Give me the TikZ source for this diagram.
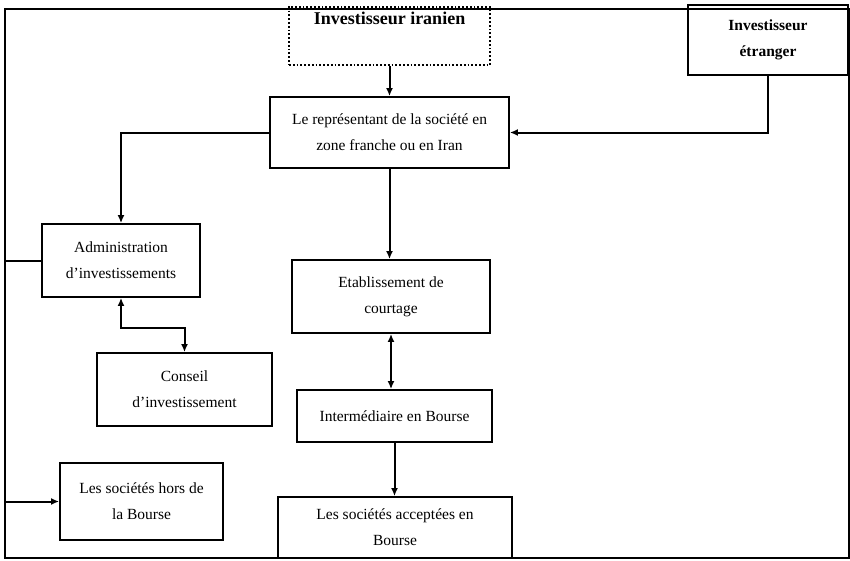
\documentclass[tikz,border=0pt]{standalone}
\usepackage{fontspec}
\setmainfont{Liberation Serif}
\usetikzlibrary{arrows.meta}
\tikzstyle{every node}=[font=\fontsize{15.5}{26}\selectfont,align=center,inner sep=0pt]
\tikzstyle{box}=[draw=black,line width=1.8pt,rectangle]
\tikzstyle{arr}=[line width=2pt,-{Latex[length=8pt,width=7pt]}]
\tikzstyle{dbl}=[line width=2pt,{Latex[length=8pt,width=7pt]}-{Latex[length=8pt,width=7pt]}]

\begin{document}
\begin{tikzpicture}[x=1pt, y=-1pt]
\useasboundingbox (0,0) rectangle (850,560);
\coordinate (nw) at (5,9);
\coordinate (se) at (849,558);
\draw[line width=2.5pt] (nw) rectangle (se);
% boxes
\node[box, dotted, line width=2pt, minimum width=201pt, text height=17pt, text depth=41pt, anchor=base, font=\fontsize{18}{26}\selectfont\bfseries] (iran) at (389.5,24) {Investisseur iranien};
\node[box, minimum width=160pt, minimum height=70pt] (etr) at (768,40) {\bfseries Investisseur\\\bfseries étranger};
\node[box, minimum width=239pt, minimum height=71pt] (rep) at (389.5,132.5) {Le représentant de la société en\\zone franche ou en Iran};
\node[box, minimum width=158pt, minimum height=73pt] (admin) at (121,260.5) {Administration\\d'investissements};
\node[box, minimum width=175pt, minimum height=73pt] (conseil) at (184.5,389.5) {Conseil\\d'investissement};
\node[box, minimum width=198pt, minimum height=73pt] (etab) at (391,296.5) {Etablissement de\\courtage};
\node[box, minimum width=195pt, minimum height=52pt] (inter) at (394.5,416) {Intermédiaire en Bourse};
\node[box, minimum width=163pt, minimum height=77pt] (hors) at (141.5,501.5) {Les sociétés hors de\\la Bourse};
\node[box, minimum width=234pt, minimum height=61pt] (accept) at (395,527.5) {Les sociétés acceptées en\\Bourse};
% connectors
\draw[arr] (iran.south -| rep.north) -- (rep.north);
\draw[arr] (etr.south) |- (rep.east);
\draw[arr] (rep.west) -| (admin.north);
\draw[arr] (rep.south) -- (rep.south |- etab.north);
\draw[dbl] (admin.south) -- ++(0,30) -| (conseil.north);
\draw[dbl] (etab.south) -- (etab.south |- inter.north);
\draw[arr] (inter.south) -- (inter.south |- accept.north);
\draw[line width=2pt] (admin.west) -- (admin.west -| nw);
\draw[arr] (hors.west -| nw) -- (hors.west);
\end{tikzpicture}
\end{document}
